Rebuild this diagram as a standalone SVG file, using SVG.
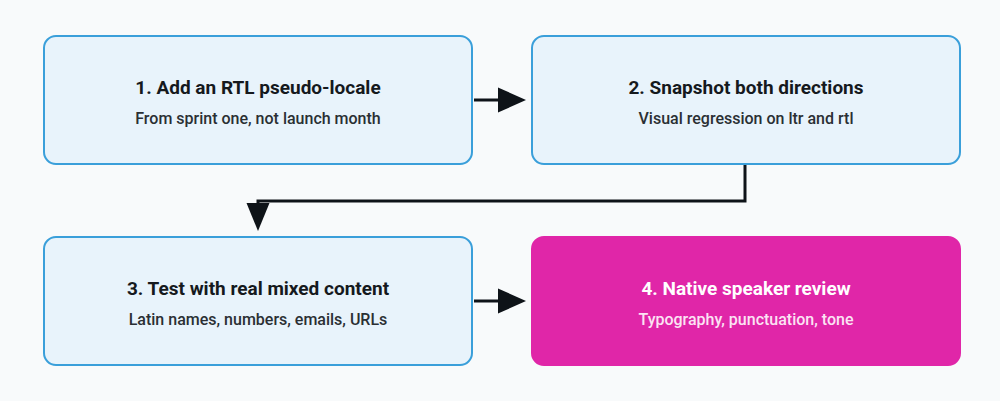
<svg xmlns="http://www.w3.org/2000/svg" width="1000" height="401" viewBox="0 0 1000 401">
<defs>
<style>
.node rect{fill:#E8F3FB;stroke:#3A9FDA;stroke-width:2}
.node.accent rect{fill:#E026A8;stroke:#E026A8}
.t{font-family:Roboto,"Liberation Sans",sans-serif;font-size:19px;font-weight:700;fill:#15191D;text-anchor:middle}
.s{font-family:Roboto,"Liberation Sans",sans-serif;font-size:16px;font-weight:500;fill:#2A2F33;text-anchor:middle}
.accent .t{fill:#FFFFFF}
.accent .s{fill:#FBE3F3}
.edge{fill:none;stroke:#0E1318;stroke-width:3}
</style>
</defs>
<rect width="1000" height="401" fill="#F8FAFB"/>
<g id="connectors">
<path class="edge" d="M474,100 H499"/>
<path d="M498,87.5 L526,100 L498,112.5 Z" fill="#0E1318"/>
<path class="edge" d="M745,164 V201 H258 V205"/>
<path d="M246.5,203 L258,231 L269.5,203 Z" fill="#0E1318"/>
<path class="edge" d="M474,301 H499"/>
<path d="M498,288.5 L526,301 L498,313.5 Z" fill="#0E1318"/>
</g>
<g id="node1" class="node">
<rect x="44" y="36" width="428" height="128" rx="12"/>
<text class="t" x="258" y="94">1. Add an RTL pseudo-locale</text>
<text class="s" x="258" y="124">From sprint one, not launch month</text>
</g>
<g id="node2" class="node">
<rect x="532" y="36" width="428" height="128" rx="12"/>
<text class="t" x="746" y="94">2. Snapshot both directions</text>
<text class="s" x="746" y="124">Visual regression on ltr and rtl</text>
</g>
<g id="node3" class="node">
<rect x="44" y="237" width="428" height="128" rx="12"/>
<text class="t" x="258" y="295">3. Test with real mixed content</text>
<text class="s" x="258" y="325">Latin names, numbers, emails, URLs</text>
</g>
<g id="node4" class="node accent">
<rect x="532" y="237" width="428" height="128" rx="12"/>
<text class="t" x="746" y="295">4. Native speaker review</text>
<text class="s" x="746" y="325">Typography, punctuation, tone</text>
</g>
</svg>
